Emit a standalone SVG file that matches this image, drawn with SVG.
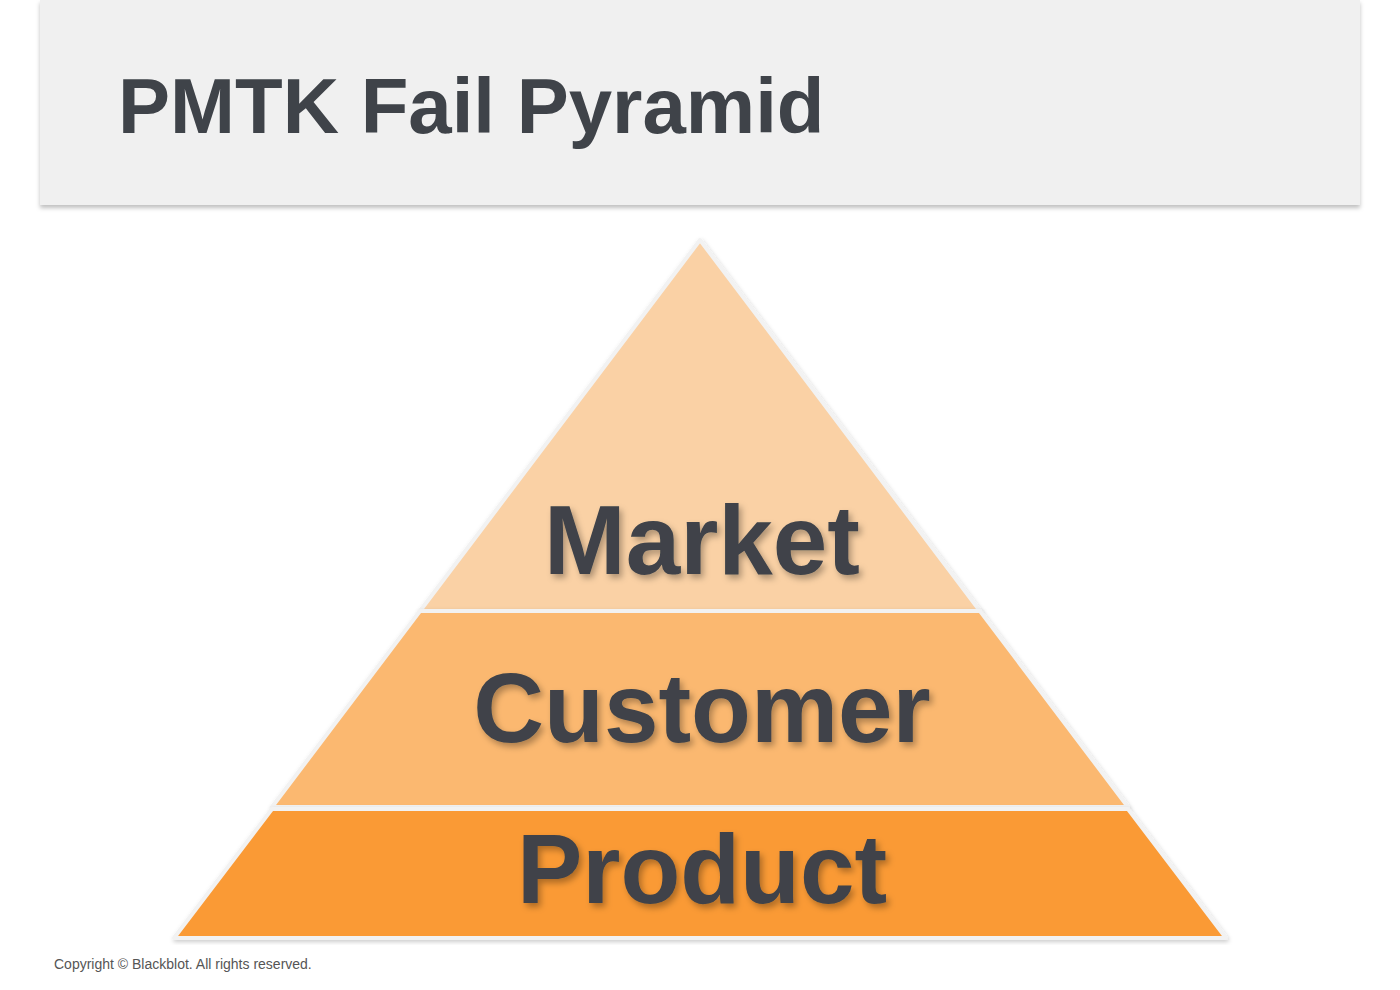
<svg xmlns="http://www.w3.org/2000/svg" width="1400" height="990" viewBox="0 0 1400 990">
<defs>
<filter id="ts" x="-10%" y="-20%" width="120%" height="150%"><feDropShadow dx="3" dy="4" stdDeviation="3" flood-color="#000" flood-opacity="0.3"/></filter>
<filter id="hs" x="-5%" y="-10%" width="110%" height="130%"><feDropShadow dx="0" dy="3" stdDeviation="2" flood-color="#000" flood-opacity="0.25"/></filter>
<filter id="ps" x="-5%" y="-5%" width="110%" height="110%"><feDropShadow dx="1" dy="2" stdDeviation="2" flood-color="#000" flood-opacity="0.2"/></filter>
</defs>
<style>
.lbl{font-family:"Liberation Sans",Arial,sans-serif;font-weight:bold;fill:#3F4349;text-anchor:middle;font-size:98px;filter:url(#ts)}
.tier{stroke:#F2F2F2;stroke-width:4;stroke-linejoin:round}
</style>
<rect width="1400" height="990" fill="#fff"/>
<rect x="40" y="0" width="1320" height="205" fill="#F0F0F0" filter="url(#hs)"/>
<text x="118" y="133" font-family="'Liberation Sans',Arial,sans-serif" font-weight="bold" font-size="78" fill="#3F4349">PMTK Fail Pyramid</text>
<g id="market"><polygon class="tier" points="700,240 980,611 420,611" fill="#FAD1A5" filter="url(#ps)"/><text class="lbl" x="702" y="574">Market</text></g>
<g id="customer"><polygon class="tier" points="420,611 980,611 1128,807 272,807" fill="#FBB870" filter="url(#ps)"/><text class="lbl" x="702" y="742">Customer</text></g>
<g id="product"><polygon class="tier" points="272,809 1128,809 1226,938 174,938" fill="#FA9A35" filter="url(#ps)"/><text class="lbl" x="702" y="903">Product</text></g>
<g id="connectors"/>
<text x="54" y="969" font-family="'Liberation Sans',Arial,sans-serif" font-size="14" fill="#555">Copyright © Blackblot.  All rights reserved.</text>
</svg>
